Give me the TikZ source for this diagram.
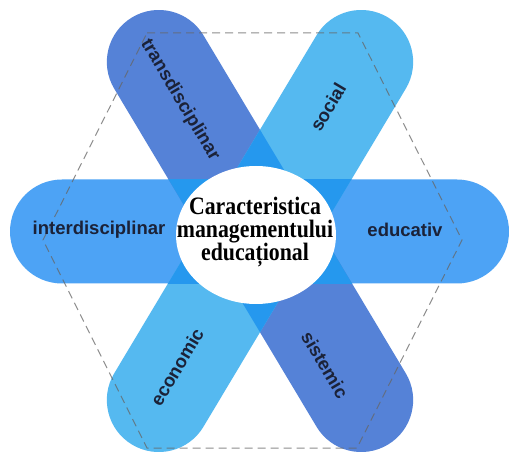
\documentclass[tikz,border=0pt]{standalone}
\usepackage{fontspec}
\setmainfont{Liberation Serif}
\setsansfont{Liberation Sans}
\usetikzlibrary{shapes.geometric}
\definecolor{bandH}{HTML}{4DA3F5}
\definecolor{bandT}{HTML}{5582D7}
\definecolor{bandS}{HTML}{55B9F0}
\definecolor{bandO}{HTML}{2598EE}
\definecolor{labelc}{HTML}{1B2238}
\tikzset{
  bandshape/.style={rounded corners=52pt},
  lbl/.style={font=\sffamily\bfseries\fontsize{18.5pt}{20pt}\selectfont, text=labelc, inner sep=0pt},
  hexline/.style={draw=black!60, draw opacity=0.75, line width=1pt, dash pattern=on 8pt off 5pt},
}
\begin{document}
\begin{tikzpicture}[x=1pt,y=-1pt]
\useasboundingbox (0,0) rectangle (509,457);
\fill[white] (0,0) rectangle (509,457);
% bands
\fill[bandH, bandshape, shift={(259.5,231.5)}] (-249.5,-52) rectangle (249.5,52);
\fill[bandT, bandshape, shift={(260,231)}, rotate=-59.1] (-249,-52) rectangle (249,52);
\fill[bandS, bandshape, shift={(260,231)}, rotate=59.1] (-249,-52) rectangle (249,52);
% overlaps
\begin{scope}
  \clip[shift={(259.5,231.5)}] (-249.5,-52) rectangle (249.5,52);
  \fill[bandO, shift={(260,231)}, rotate=-59.1] (-200,-52) rectangle (200,52);
  \fill[bandO, shift={(260,231)}, rotate=59.1] (-200,-52) rectangle (200,52);
\end{scope}
\begin{scope}
  \clip[shift={(260,231)}, rotate=-59.1] (-200,-52) rectangle (200,52);
  \fill[bandO, shift={(260,231)}, rotate=59.1] (-200,-52) rectangle (200,52);
\end{scope}
% hexagon
\draw[hexline] (147,33) -- (358,33) -- (462,240) -- (357,448) -- (147,448) -- (43,240) -- cycle;
% centre
\node[ellipse, fill=white, minimum width=160pt, minimum height=138pt, inner sep=0pt] (hub) at (256,235) {};
\begin{scope}[shift={(255,232)}, yscale=1.15]
\node[transform shape, font=\bfseries\fontsize{21.8pt}{20pt}\selectfont, align=center, inner sep=0pt] (title) at (0,0) {Caracteristica\\managementului\\educațional};
\end{scope}
% labels
\node[lbl] (inter) at (99,230) {interdisciplinar};
\node[lbl] (educ) at (405,230) {educativ};
\node[lbl, rotate=-59.3] (trans) at (180,100) {transdisciplinar};
\node[lbl, rotate=59.3] (soc) at (328,107) {social};
\node[lbl, rotate=59.3] (eco) at (177,367) {economic};
\node[lbl, rotate=-59.3] (sis) at (325,365) {sistemic};
\end{tikzpicture}
\end{document}
